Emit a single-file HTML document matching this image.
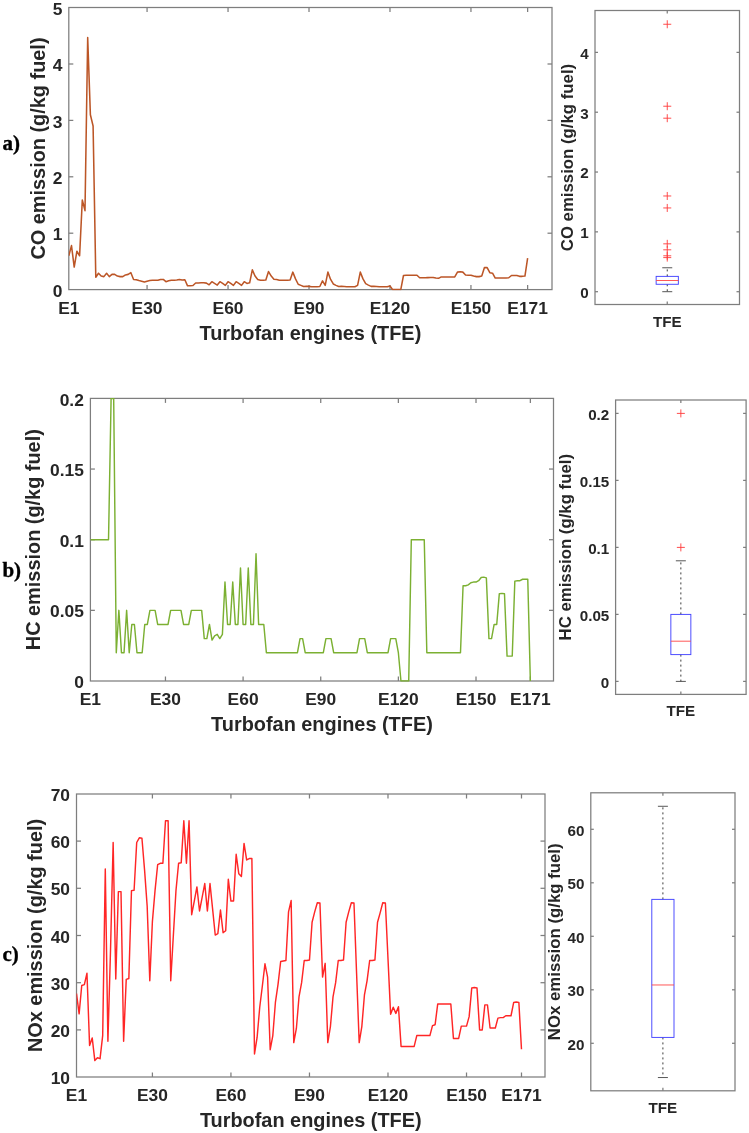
<!DOCTYPE html>
<html><head><meta charset="utf-8"><title>Emissions</title>
<style>html,body{margin:0;padding:0;background:#fff}svg{display:block}</style></head>
<body><svg width="749" height="1133" viewBox="0 0 749 1133">
<rect width="749" height="1133" fill="#fff"/>
<defs><filter id="bl" x="0" y="0" width="749" height="1133" filterUnits="userSpaceOnUse"><feGaussianBlur stdDeviation="0.5"/></filter></defs>
<g filter="url(#bl)">
<rect x="68.80" y="7.50" width="483.20" height="282.10" fill="#fff" stroke="#7e7e7e" stroke-width="1.25"/>
<text x="68.80" y="313.90" font-family="Liberation Sans" font-size="17.4" font-weight="bold" text-anchor="middle" fill="#262626" >E1</text>
<line x1="147.07" y1="289.60" x2="147.07" y2="285.10" stroke="#7e7e7e" stroke-width="1.25" />
<line x1="147.07" y1="7.50" x2="147.07" y2="12.00" stroke="#7e7e7e" stroke-width="1.25" />
<text x="147.07" y="313.90" font-family="Liberation Sans" font-size="17.4" font-weight="bold" text-anchor="middle" fill="#262626" >E30</text>
<line x1="228.04" y1="289.60" x2="228.04" y2="285.10" stroke="#7e7e7e" stroke-width="1.25" />
<line x1="228.04" y1="7.50" x2="228.04" y2="12.00" stroke="#7e7e7e" stroke-width="1.25" />
<text x="228.04" y="313.90" font-family="Liberation Sans" font-size="17.4" font-weight="bold" text-anchor="middle" fill="#262626" >E60</text>
<line x1="309.01" y1="289.60" x2="309.01" y2="285.10" stroke="#7e7e7e" stroke-width="1.25" />
<line x1="309.01" y1="7.50" x2="309.01" y2="12.00" stroke="#7e7e7e" stroke-width="1.25" />
<text x="309.01" y="313.90" font-family="Liberation Sans" font-size="17.4" font-weight="bold" text-anchor="middle" fill="#262626" >E90</text>
<line x1="389.98" y1="289.60" x2="389.98" y2="285.10" stroke="#7e7e7e" stroke-width="1.25" />
<line x1="389.98" y1="7.50" x2="389.98" y2="12.00" stroke="#7e7e7e" stroke-width="1.25" />
<text x="389.98" y="313.90" font-family="Liberation Sans" font-size="17.4" font-weight="bold" text-anchor="middle" fill="#262626" >E120</text>
<line x1="470.95" y1="289.60" x2="470.95" y2="285.10" stroke="#7e7e7e" stroke-width="1.25" />
<line x1="470.95" y1="7.50" x2="470.95" y2="12.00" stroke="#7e7e7e" stroke-width="1.25" />
<text x="470.95" y="313.90" font-family="Liberation Sans" font-size="17.4" font-weight="bold" text-anchor="middle" fill="#262626" >E150</text>
<line x1="527.63" y1="289.60" x2="527.63" y2="285.10" stroke="#7e7e7e" stroke-width="1.25" />
<line x1="527.63" y1="7.50" x2="527.63" y2="12.00" stroke="#7e7e7e" stroke-width="1.25" />
<text x="527.63" y="313.90" font-family="Liberation Sans" font-size="17.4" font-weight="bold" text-anchor="middle" fill="#262626" >E171</text>
<text x="62.30" y="296.73" font-family="Liberation Sans" font-size="17.4" font-weight="bold" text-anchor="end" fill="#262626" >0</text>
<line x1="68.80" y1="233.20" x2="73.30" y2="233.20" stroke="#7e7e7e" stroke-width="1.25" />
<line x1="552.00" y1="233.20" x2="547.50" y2="233.20" stroke="#7e7e7e" stroke-width="1.25" />
<text x="62.30" y="240.33" font-family="Liberation Sans" font-size="17.4" font-weight="bold" text-anchor="end" fill="#262626" >1</text>
<line x1="68.80" y1="176.80" x2="73.30" y2="176.80" stroke="#7e7e7e" stroke-width="1.25" />
<line x1="552.00" y1="176.80" x2="547.50" y2="176.80" stroke="#7e7e7e" stroke-width="1.25" />
<text x="62.30" y="183.93" font-family="Liberation Sans" font-size="17.4" font-weight="bold" text-anchor="end" fill="#262626" >2</text>
<line x1="68.80" y1="120.40" x2="73.30" y2="120.40" stroke="#7e7e7e" stroke-width="1.25" />
<line x1="552.00" y1="120.40" x2="547.50" y2="120.40" stroke="#7e7e7e" stroke-width="1.25" />
<text x="62.30" y="127.53" font-family="Liberation Sans" font-size="17.4" font-weight="bold" text-anchor="end" fill="#262626" >3</text>
<line x1="68.80" y1="64.00" x2="73.30" y2="64.00" stroke="#7e7e7e" stroke-width="1.25" />
<line x1="552.00" y1="64.00" x2="547.50" y2="64.00" stroke="#7e7e7e" stroke-width="1.25" />
<text x="62.30" y="71.13" font-family="Liberation Sans" font-size="17.4" font-weight="bold" text-anchor="end" fill="#262626" >4</text>
<text x="62.30" y="14.73" font-family="Liberation Sans" font-size="17.4" font-weight="bold" text-anchor="end" fill="#262626" >5</text>
<clipPath id="ca"><rect x="68.8" y="7.0" width="483.2" height="283.3"/></clipPath>
<polyline points="68.80,255.76 71.50,245.61 74.20,267.04 76.90,251.25 79.60,255.76 82.30,199.92 84.99,210.64 87.69,37.49 90.39,114.76 93.09,126.04 95.79,277.19 98.49,273.24 101.19,276.06 103.89,276.63 106.59,273.24 109.28,276.63 111.98,274.37 114.68,274.37 117.38,276.06 120.08,276.63 122.78,276.63 125.48,274.94 128.18,274.37 130.88,272.68 133.58,279.45 136.27,279.73 138.97,280.58 141.67,281.14 144.37,281.99 147.07,281.14 149.77,280.58 152.47,280.29 155.17,280.29 157.87,280.29 160.57,279.45 163.26,279.45 165.96,281.70 168.66,280.86 171.36,280.29 174.06,280.29 176.76,280.01 179.46,279.45 182.16,280.01 184.86,279.73 187.56,285.82 190.25,285.65 192.95,285.48 195.65,283.00 198.35,283.00 201.05,282.83 203.75,282.83 206.45,283.11 209.15,284.81 211.85,281.70 214.55,283.40 217.25,285.09 219.94,281.70 222.64,283.40 225.34,285.37 228.04,281.70 230.74,283.40 233.44,285.37 236.14,281.70 238.84,283.40 241.54,285.37 244.24,281.70 246.93,283.40 249.63,282.83 252.33,269.86 255.03,276.06 257.73,279.45 260.43,280.29 263.13,280.29 265.83,280.01 268.53,271.55 271.22,276.06 273.92,279.17 276.62,279.45 279.32,280.29 282.02,280.29 284.72,280.29 287.42,280.29 290.12,280.01 292.82,272.12 295.52,278.88 298.21,284.24 300.91,285.37 303.61,286.50 306.31,286.39 309.01,286.39 311.71,286.78 314.41,286.78 317.11,286.78 319.81,286.50 322.51,280.86 325.20,285.37 327.90,272.12 330.60,279.45 333.30,283.96 336.00,285.37 338.70,286.50 341.40,286.39 344.10,286.50 346.80,286.78 349.50,286.78 352.19,286.78 354.89,286.78 357.59,285.37 360.29,272.12 362.99,278.88 365.69,283.68 368.39,285.09 371.09,286.39 373.79,286.39 376.49,286.50 379.19,286.78 381.88,286.78 384.58,286.78 387.28,286.78 389.98,285.93 392.68,289.60 395.38,289.60 398.08,289.60 400.78,289.60 403.48,275.50 406.18,275.22 408.87,275.22 411.57,275.22 414.27,275.22 416.97,275.22 419.67,277.76 422.37,277.76 425.07,277.76 427.77,277.64 430.47,277.47 433.16,277.47 435.86,278.04 438.56,278.32 441.26,276.91 443.96,276.91 446.66,276.91 449.36,276.91 452.06,276.91 454.76,276.91 457.46,272.12 460.15,271.83 462.85,272.12 465.55,274.94 468.25,275.22 470.95,275.22 473.65,276.06 476.35,276.63 479.05,276.63 481.75,276.06 484.45,267.60 487.14,267.60 489.84,272.68 492.54,273.24 495.24,278.04 497.94,278.04 500.64,278.04 503.34,278.04 506.04,278.04 508.74,277.76 511.44,275.50 514.13,275.50 516.83,275.50 519.53,276.35 522.23,276.35 524.93,276.06 527.63,258.02" fill="none" stroke="#BC5628" stroke-width="1.55" stroke-linejoin="round" clip-path="url(#ca)"/>
<text x="310.40" y="339.60" font-family="Liberation Sans" font-size="19.9" font-weight="bold" text-anchor="middle" fill="#262626" >Turbofan engines (TFE)</text>
<text x="44.60" y="148.55" font-family="Liberation Sans" font-size="19.9" font-weight="bold" text-anchor="middle" fill="#262626" transform="rotate(-90 44.60 148.55)" >CO emission (g/kg fuel)</text>
<text x="2.40" y="149.80" font-family="Liberation Serif" font-size="21" font-weight="bold" text-anchor="start" fill="#000" stroke="#000" stroke-width="0.35">a)</text>
<rect x="595.00" y="10.50" width="144.50" height="294.00" fill="#fff" stroke="#7e7e7e" stroke-width="1.25"/>
<line x1="667.25" y1="304.50" x2="667.25" y2="301.50" stroke="#7e7e7e" stroke-width="1.25" />
<line x1="667.25" y1="10.50" x2="667.25" y2="13.50" stroke="#7e7e7e" stroke-width="1.25" />
<line x1="595.00" y1="291.70" x2="598.00" y2="291.70" stroke="#7e7e7e" stroke-width="1.25" />
<line x1="739.50" y1="291.70" x2="736.50" y2="291.70" stroke="#7e7e7e" stroke-width="1.25" />
<text x="588.70" y="298.01" font-family="Liberation Sans" font-size="15.2" font-weight="bold" text-anchor="end" fill="#262626" >0</text>
<line x1="595.00" y1="231.87" x2="598.00" y2="231.87" stroke="#7e7e7e" stroke-width="1.25" />
<line x1="739.50" y1="231.87" x2="736.50" y2="231.87" stroke="#7e7e7e" stroke-width="1.25" />
<text x="588.70" y="238.18" font-family="Liberation Sans" font-size="15.2" font-weight="bold" text-anchor="end" fill="#262626" >1</text>
<line x1="595.00" y1="172.04" x2="598.00" y2="172.04" stroke="#7e7e7e" stroke-width="1.25" />
<line x1="739.50" y1="172.04" x2="736.50" y2="172.04" stroke="#7e7e7e" stroke-width="1.25" />
<text x="588.70" y="178.35" font-family="Liberation Sans" font-size="15.2" font-weight="bold" text-anchor="end" fill="#262626" >2</text>
<line x1="595.00" y1="112.21" x2="598.00" y2="112.21" stroke="#7e7e7e" stroke-width="1.25" />
<line x1="739.50" y1="112.21" x2="736.50" y2="112.21" stroke="#7e7e7e" stroke-width="1.25" />
<text x="588.70" y="118.52" font-family="Liberation Sans" font-size="15.2" font-weight="bold" text-anchor="end" fill="#262626" >3</text>
<line x1="595.00" y1="52.38" x2="598.00" y2="52.38" stroke="#7e7e7e" stroke-width="1.25" />
<line x1="739.50" y1="52.38" x2="736.50" y2="52.38" stroke="#7e7e7e" stroke-width="1.25" />
<text x="588.70" y="58.69" font-family="Liberation Sans" font-size="15.2" font-weight="bold" text-anchor="end" fill="#262626" >4</text>
<text x="667.25" y="326.50" font-family="Liberation Sans" font-size="15.2" font-weight="bold" text-anchor="middle" fill="#262626" >TFE</text>
<text x="573.00" y="157.50" font-family="Liberation Sans" font-size="16.8" font-weight="bold" text-anchor="middle" fill="#262626" transform="rotate(-90 573.00 157.50)" >CO emission (g/kg fuel)</text>
<line x1="667.25" y1="276.38" x2="667.25" y2="267.77" stroke="#333" stroke-width="0.95" stroke-dasharray="2 3"/>
<line x1="667.25" y1="284.28" x2="667.25" y2="291.70" stroke="#333" stroke-width="0.95" stroke-dasharray="2 3"/>
<line x1="662.25" y1="267.77" x2="672.25" y2="267.77" stroke="#444" stroke-width="0.9" />
<line x1="662.25" y1="291.70" x2="672.25" y2="291.70" stroke="#444" stroke-width="0.9" />
<rect x="656.15" y="276.38" width="22.20" height="7.90" fill="none" stroke="#4444ff" stroke-width="0.95"/>
<line x1="656.15" y1="280.51" x2="678.35" y2="280.51" stroke="#ff4545" stroke-width="0.9" />
<line x1="663.25" y1="24.26" x2="671.25" y2="24.26" stroke="#ff3a3a" stroke-width="0.9" />
<line x1="667.25" y1="20.26" x2="667.25" y2="28.26" stroke="#ff3a3a" stroke-width="0.9" />
<line x1="663.25" y1="106.23" x2="671.25" y2="106.23" stroke="#ff3a3a" stroke-width="0.9" />
<line x1="667.25" y1="102.23" x2="667.25" y2="110.23" stroke="#ff3a3a" stroke-width="0.9" />
<line x1="663.25" y1="118.19" x2="671.25" y2="118.19" stroke="#ff3a3a" stroke-width="0.9" />
<line x1="667.25" y1="114.19" x2="667.25" y2="122.19" stroke="#ff3a3a" stroke-width="0.9" />
<line x1="663.25" y1="195.97" x2="671.25" y2="195.97" stroke="#ff3a3a" stroke-width="0.9" />
<line x1="667.25" y1="191.97" x2="667.25" y2="199.97" stroke="#ff3a3a" stroke-width="0.9" />
<line x1="663.25" y1="207.94" x2="671.25" y2="207.94" stroke="#ff3a3a" stroke-width="0.9" />
<line x1="667.25" y1="203.94" x2="667.25" y2="211.94" stroke="#ff3a3a" stroke-width="0.9" />
<line x1="663.25" y1="243.84" x2="671.25" y2="243.84" stroke="#ff3a3a" stroke-width="0.9" />
<line x1="667.25" y1="239.84" x2="667.25" y2="247.84" stroke="#ff3a3a" stroke-width="0.9" />
<line x1="663.25" y1="249.82" x2="671.25" y2="249.82" stroke="#ff3a3a" stroke-width="0.9" />
<line x1="667.25" y1="245.82" x2="667.25" y2="253.82" stroke="#ff3a3a" stroke-width="0.9" />
<line x1="663.25" y1="255.80" x2="671.25" y2="255.80" stroke="#ff3a3a" stroke-width="0.9" />
<line x1="667.25" y1="251.80" x2="667.25" y2="259.80" stroke="#ff3a3a" stroke-width="0.9" />
<line x1="663.25" y1="257.60" x2="671.25" y2="257.60" stroke="#ff3a3a" stroke-width="0.9" />
<line x1="667.25" y1="253.60" x2="667.25" y2="261.60" stroke="#ff3a3a" stroke-width="0.9" />
<rect x="90.40" y="398.40" width="463.10" height="282.60" fill="#fff" stroke="#7e7e7e" stroke-width="1.25"/>
<text x="90.40" y="705.30" font-family="Liberation Sans" font-size="17.4" font-weight="bold" text-anchor="middle" fill="#262626" >E1</text>
<line x1="165.45" y1="681.00" x2="165.45" y2="676.50" stroke="#7e7e7e" stroke-width="1.25" />
<line x1="165.45" y1="398.40" x2="165.45" y2="402.90" stroke="#7e7e7e" stroke-width="1.25" />
<text x="165.45" y="705.30" font-family="Liberation Sans" font-size="17.4" font-weight="bold" text-anchor="middle" fill="#262626" >E30</text>
<line x1="243.09" y1="681.00" x2="243.09" y2="676.50" stroke="#7e7e7e" stroke-width="1.25" />
<line x1="243.09" y1="398.40" x2="243.09" y2="402.90" stroke="#7e7e7e" stroke-width="1.25" />
<text x="243.09" y="705.30" font-family="Liberation Sans" font-size="17.4" font-weight="bold" text-anchor="middle" fill="#262626" >E60</text>
<line x1="320.73" y1="681.00" x2="320.73" y2="676.50" stroke="#7e7e7e" stroke-width="1.25" />
<line x1="320.73" y1="398.40" x2="320.73" y2="402.90" stroke="#7e7e7e" stroke-width="1.25" />
<text x="320.73" y="705.30" font-family="Liberation Sans" font-size="17.4" font-weight="bold" text-anchor="middle" fill="#262626" >E90</text>
<line x1="398.37" y1="681.00" x2="398.37" y2="676.50" stroke="#7e7e7e" stroke-width="1.25" />
<line x1="398.37" y1="398.40" x2="398.37" y2="402.90" stroke="#7e7e7e" stroke-width="1.25" />
<text x="398.37" y="705.30" font-family="Liberation Sans" font-size="17.4" font-weight="bold" text-anchor="middle" fill="#262626" >E120</text>
<line x1="476.01" y1="681.00" x2="476.01" y2="676.50" stroke="#7e7e7e" stroke-width="1.25" />
<line x1="476.01" y1="398.40" x2="476.01" y2="402.90" stroke="#7e7e7e" stroke-width="1.25" />
<text x="476.01" y="705.30" font-family="Liberation Sans" font-size="17.4" font-weight="bold" text-anchor="middle" fill="#262626" >E150</text>
<line x1="530.36" y1="681.00" x2="530.36" y2="676.50" stroke="#7e7e7e" stroke-width="1.25" />
<line x1="530.36" y1="398.40" x2="530.36" y2="402.90" stroke="#7e7e7e" stroke-width="1.25" />
<text x="530.36" y="705.30" font-family="Liberation Sans" font-size="17.4" font-weight="bold" text-anchor="middle" fill="#262626" >E171</text>
<text x="83.90" y="688.13" font-family="Liberation Sans" font-size="17.4" font-weight="bold" text-anchor="end" fill="#262626" >0</text>
<line x1="90.40" y1="610.35" x2="94.90" y2="610.35" stroke="#7e7e7e" stroke-width="1.25" />
<line x1="553.50" y1="610.35" x2="549.00" y2="610.35" stroke="#7e7e7e" stroke-width="1.25" />
<text x="83.90" y="617.48" font-family="Liberation Sans" font-size="17.4" font-weight="bold" text-anchor="end" fill="#262626" >0.05</text>
<line x1="90.40" y1="539.70" x2="94.90" y2="539.70" stroke="#7e7e7e" stroke-width="1.25" />
<line x1="553.50" y1="539.70" x2="549.00" y2="539.70" stroke="#7e7e7e" stroke-width="1.25" />
<text x="83.90" y="546.83" font-family="Liberation Sans" font-size="17.4" font-weight="bold" text-anchor="end" fill="#262626" >0.1</text>
<line x1="90.40" y1="469.05" x2="94.90" y2="469.05" stroke="#7e7e7e" stroke-width="1.25" />
<line x1="553.50" y1="469.05" x2="549.00" y2="469.05" stroke="#7e7e7e" stroke-width="1.25" />
<text x="83.90" y="476.18" font-family="Liberation Sans" font-size="17.4" font-weight="bold" text-anchor="end" fill="#262626" >0.15</text>
<text x="83.90" y="405.53" font-family="Liberation Sans" font-size="17.4" font-weight="bold" text-anchor="end" fill="#262626" >0.2</text>
<clipPath id="cb"><rect x="90.4" y="397.9" width="463.1" height="283.8"/></clipPath>
<polyline points="90.40,539.70 92.99,539.70 95.58,539.70 98.16,539.70 100.75,539.70 103.34,539.70 105.93,539.70 108.52,539.70 111.10,398.40 113.69,398.40 116.28,652.74 118.87,610.35 121.46,652.74 124.04,652.74 126.63,610.35 129.22,652.74 131.81,624.48 134.40,624.48 136.98,652.74 139.57,652.74 142.16,652.74 144.75,624.48 147.34,624.48 149.92,610.35 152.51,610.35 155.10,610.35 157.69,624.48 160.28,624.48 162.86,624.48 165.45,624.48 168.04,624.48 170.63,610.35 173.22,610.35 175.80,610.35 178.39,610.35 180.98,610.35 183.57,624.48 186.16,624.48 188.74,624.48 191.33,610.35 193.92,610.35 196.51,610.35 199.10,610.35 201.68,610.35 204.27,638.61 206.86,638.61 209.45,624.48 212.04,640.02 214.62,635.78 217.21,634.37 219.80,638.61 222.39,634.37 224.98,582.09 227.56,624.48 230.15,624.48 232.74,582.09 235.33,624.48 237.92,624.48 240.50,567.96 243.09,624.48 245.68,624.48 248.27,567.96 250.86,624.48 253.44,624.48 256.03,553.83 258.62,624.48 261.21,624.48 263.80,624.48 266.38,652.74 268.97,652.74 271.56,652.74 274.15,652.74 276.74,652.74 279.32,652.74 281.91,652.74 284.50,652.74 287.09,652.74 289.68,652.74 292.26,652.74 294.85,652.74 297.44,652.74 300.03,638.61 302.62,638.61 305.20,652.74 307.79,652.74 310.38,652.74 312.97,652.74 315.56,652.74 318.14,652.74 320.73,652.74 323.32,652.74 325.91,638.61 328.50,638.61 331.08,638.61 333.67,652.74 336.26,652.74 338.85,652.74 341.44,652.74 344.02,652.74 346.61,652.74 349.20,652.74 351.79,652.74 354.38,652.74 356.96,652.74 359.55,638.61 362.14,638.61 364.73,638.61 367.32,652.74 369.90,652.74 372.49,652.74 375.08,652.74 377.67,652.74 380.26,652.74 382.84,652.74 385.43,652.74 388.02,652.74 390.61,638.61 393.20,638.61 395.78,638.61 398.37,652.74 400.96,681.00 403.55,681.00 406.14,681.00 408.72,681.00 411.31,539.70 413.90,539.70 416.49,539.70 419.08,539.70 421.66,539.70 424.25,539.70 426.84,652.74 429.43,652.74 432.02,652.74 434.60,652.74 437.19,652.74 439.78,652.74 442.37,652.74 444.96,652.74 447.54,652.74 450.13,652.74 452.72,652.74 455.31,652.74 457.90,652.74 460.48,652.74 463.07,585.76 465.66,585.76 468.25,584.92 470.84,582.80 473.42,582.09 476.01,582.09 478.60,580.68 481.19,577.43 483.78,577.14 486.36,577.85 488.95,638.61 491.54,638.61 494.13,624.48 496.72,624.48 499.30,593.82 501.89,593.39 504.48,593.82 507.07,656.13 509.66,656.13 512.24,655.99 514.83,581.10 517.42,580.68 520.01,580.68 522.60,579.26 525.18,579.26 527.77,579.26 530.36,681.00" fill="none" stroke="#7BB033" stroke-width="1.45" stroke-linejoin="round" clip-path="url(#cb)"/>
<text x="321.95" y="731.00" font-family="Liberation Sans" font-size="19.9" font-weight="bold" text-anchor="middle" fill="#262626" >Turbofan engines (TFE)</text>
<text x="40.30" y="539.70" font-family="Liberation Sans" font-size="19.9" font-weight="bold" text-anchor="middle" fill="#262626" transform="rotate(-90 40.30 539.70)" >HC emission (g/kg fuel)</text>
<text x="2.40" y="576.70" font-family="Liberation Serif" font-size="21" font-weight="bold" text-anchor="start" fill="#000" stroke="#000" stroke-width="0.35">b)</text>
<rect x="615.60" y="400.00" width="130.50" height="294.40" fill="#fff" stroke="#7e7e7e" stroke-width="1.25"/>
<line x1="680.85" y1="694.40" x2="680.85" y2="691.40" stroke="#7e7e7e" stroke-width="1.25" />
<line x1="680.85" y1="400.00" x2="680.85" y2="403.00" stroke="#7e7e7e" stroke-width="1.25" />
<line x1="615.60" y1="681.40" x2="618.60" y2="681.40" stroke="#7e7e7e" stroke-width="1.25" />
<line x1="746.10" y1="681.40" x2="743.10" y2="681.40" stroke="#7e7e7e" stroke-width="1.25" />
<text x="609.30" y="687.71" font-family="Liberation Sans" font-size="15.2" font-weight="bold" text-anchor="end" fill="#262626" >0</text>
<line x1="615.60" y1="614.40" x2="618.60" y2="614.40" stroke="#7e7e7e" stroke-width="1.25" />
<line x1="746.10" y1="614.40" x2="743.10" y2="614.40" stroke="#7e7e7e" stroke-width="1.25" />
<text x="609.30" y="620.71" font-family="Liberation Sans" font-size="15.2" font-weight="bold" text-anchor="end" fill="#262626" >0.05</text>
<line x1="615.60" y1="547.40" x2="618.60" y2="547.40" stroke="#7e7e7e" stroke-width="1.25" />
<line x1="746.10" y1="547.40" x2="743.10" y2="547.40" stroke="#7e7e7e" stroke-width="1.25" />
<text x="609.30" y="553.71" font-family="Liberation Sans" font-size="15.2" font-weight="bold" text-anchor="end" fill="#262626" >0.1</text>
<line x1="615.60" y1="480.40" x2="618.60" y2="480.40" stroke="#7e7e7e" stroke-width="1.25" />
<line x1="746.10" y1="480.40" x2="743.10" y2="480.40" stroke="#7e7e7e" stroke-width="1.25" />
<text x="609.30" y="486.71" font-family="Liberation Sans" font-size="15.2" font-weight="bold" text-anchor="end" fill="#262626" >0.15</text>
<line x1="615.60" y1="413.40" x2="618.60" y2="413.40" stroke="#7e7e7e" stroke-width="1.25" />
<line x1="746.10" y1="413.40" x2="743.10" y2="413.40" stroke="#7e7e7e" stroke-width="1.25" />
<text x="609.30" y="419.71" font-family="Liberation Sans" font-size="15.2" font-weight="bold" text-anchor="end" fill="#262626" >0.2</text>
<text x="680.85" y="716.40" font-family="Liberation Sans" font-size="15.2" font-weight="bold" text-anchor="middle" fill="#262626" >TFE</text>
<text x="571.40" y="547.20" font-family="Liberation Sans" font-size="16.8" font-weight="bold" text-anchor="middle" fill="#262626" transform="rotate(-90 571.40 547.20)" >HC emission (g/kg fuel)</text>
<line x1="680.85" y1="614.40" x2="680.85" y2="560.80" stroke="#333" stroke-width="0.95" stroke-dasharray="2 3"/>
<line x1="680.85" y1="654.60" x2="680.85" y2="681.40" stroke="#333" stroke-width="0.95" stroke-dasharray="2 3"/>
<line x1="675.85" y1="560.80" x2="685.85" y2="560.80" stroke="#444" stroke-width="0.9" />
<line x1="675.85" y1="681.40" x2="685.85" y2="681.40" stroke="#444" stroke-width="0.9" />
<rect x="670.85" y="614.40" width="20.00" height="40.20" fill="none" stroke="#4444ff" stroke-width="0.95"/>
<line x1="670.85" y1="641.20" x2="690.85" y2="641.20" stroke="#ff4545" stroke-width="0.9" />
<line x1="676.85" y1="547.40" x2="684.85" y2="547.40" stroke="#ff3a3a" stroke-width="0.9" />
<line x1="680.85" y1="543.40" x2="680.85" y2="551.40" stroke="#ff3a3a" stroke-width="0.9" />
<line x1="676.85" y1="413.40" x2="684.85" y2="413.40" stroke="#ff3a3a" stroke-width="0.9" />
<line x1="680.85" y1="409.40" x2="680.85" y2="417.40" stroke="#ff3a3a" stroke-width="0.9" />
<rect x="76.50" y="794.00" width="468.50" height="283.00" fill="#fff" stroke="#7e7e7e" stroke-width="1.25"/>
<text x="76.50" y="1101.30" font-family="Liberation Sans" font-size="17.4" font-weight="bold" text-anchor="middle" fill="#262626" >E1</text>
<line x1="152.41" y1="1077.00" x2="152.41" y2="1072.50" stroke="#7e7e7e" stroke-width="1.25" />
<line x1="152.41" y1="794.00" x2="152.41" y2="798.50" stroke="#7e7e7e" stroke-width="1.25" />
<text x="152.41" y="1101.30" font-family="Liberation Sans" font-size="17.4" font-weight="bold" text-anchor="middle" fill="#262626" >E30</text>
<line x1="230.94" y1="1077.00" x2="230.94" y2="1072.50" stroke="#7e7e7e" stroke-width="1.25" />
<line x1="230.94" y1="794.00" x2="230.94" y2="798.50" stroke="#7e7e7e" stroke-width="1.25" />
<text x="230.94" y="1101.30" font-family="Liberation Sans" font-size="17.4" font-weight="bold" text-anchor="middle" fill="#262626" >E60</text>
<line x1="309.47" y1="1077.00" x2="309.47" y2="1072.50" stroke="#7e7e7e" stroke-width="1.25" />
<line x1="309.47" y1="794.00" x2="309.47" y2="798.50" stroke="#7e7e7e" stroke-width="1.25" />
<text x="309.47" y="1101.30" font-family="Liberation Sans" font-size="17.4" font-weight="bold" text-anchor="middle" fill="#262626" >E90</text>
<line x1="387.99" y1="1077.00" x2="387.99" y2="1072.50" stroke="#7e7e7e" stroke-width="1.25" />
<line x1="387.99" y1="794.00" x2="387.99" y2="798.50" stroke="#7e7e7e" stroke-width="1.25" />
<text x="387.99" y="1101.30" font-family="Liberation Sans" font-size="17.4" font-weight="bold" text-anchor="middle" fill="#262626" >E120</text>
<line x1="466.52" y1="1077.00" x2="466.52" y2="1072.50" stroke="#7e7e7e" stroke-width="1.25" />
<line x1="466.52" y1="794.00" x2="466.52" y2="798.50" stroke="#7e7e7e" stroke-width="1.25" />
<text x="466.52" y="1101.30" font-family="Liberation Sans" font-size="17.4" font-weight="bold" text-anchor="middle" fill="#262626" >E150</text>
<line x1="521.49" y1="1077.00" x2="521.49" y2="1072.50" stroke="#7e7e7e" stroke-width="1.25" />
<line x1="521.49" y1="794.00" x2="521.49" y2="798.50" stroke="#7e7e7e" stroke-width="1.25" />
<text x="521.49" y="1101.30" font-family="Liberation Sans" font-size="17.4" font-weight="bold" text-anchor="middle" fill="#262626" >E171</text>
<text x="70.00" y="1084.23" font-family="Liberation Sans" font-size="17.4" font-weight="bold" text-anchor="end" fill="#262626" >10</text>
<line x1="76.50" y1="1029.90" x2="81.00" y2="1029.90" stroke="#7e7e7e" stroke-width="1.25" />
<line x1="545.00" y1="1029.90" x2="540.50" y2="1029.90" stroke="#7e7e7e" stroke-width="1.25" />
<text x="70.00" y="1037.03" font-family="Liberation Sans" font-size="17.4" font-weight="bold" text-anchor="end" fill="#262626" >20</text>
<line x1="76.50" y1="982.70" x2="81.00" y2="982.70" stroke="#7e7e7e" stroke-width="1.25" />
<line x1="545.00" y1="982.70" x2="540.50" y2="982.70" stroke="#7e7e7e" stroke-width="1.25" />
<text x="70.00" y="989.83" font-family="Liberation Sans" font-size="17.4" font-weight="bold" text-anchor="end" fill="#262626" >30</text>
<line x1="76.50" y1="935.50" x2="81.00" y2="935.50" stroke="#7e7e7e" stroke-width="1.25" />
<line x1="545.00" y1="935.50" x2="540.50" y2="935.50" stroke="#7e7e7e" stroke-width="1.25" />
<text x="70.00" y="942.63" font-family="Liberation Sans" font-size="17.4" font-weight="bold" text-anchor="end" fill="#262626" >40</text>
<line x1="76.50" y1="888.30" x2="81.00" y2="888.30" stroke="#7e7e7e" stroke-width="1.25" />
<line x1="545.00" y1="888.30" x2="540.50" y2="888.30" stroke="#7e7e7e" stroke-width="1.25" />
<text x="70.00" y="895.43" font-family="Liberation Sans" font-size="17.4" font-weight="bold" text-anchor="end" fill="#262626" >50</text>
<line x1="76.50" y1="841.10" x2="81.00" y2="841.10" stroke="#7e7e7e" stroke-width="1.25" />
<line x1="545.00" y1="841.10" x2="540.50" y2="841.10" stroke="#7e7e7e" stroke-width="1.25" />
<text x="70.00" y="848.23" font-family="Liberation Sans" font-size="17.4" font-weight="bold" text-anchor="end" fill="#262626" >60</text>
<text x="70.00" y="801.03" font-family="Liberation Sans" font-size="17.4" font-weight="bold" text-anchor="end" fill="#262626" >70</text>
<clipPath id="cc"><rect x="76.5" y="793.5" width="468.5" height="284.2"/></clipPath>
<polyline points="76.50,993.56 79.12,1013.85 81.74,985.53 84.35,984.59 86.97,973.26 89.59,1045.48 92.21,1037.92 94.82,1060.58 97.44,1057.75 100.06,1058.69 102.68,1035.56 105.29,868.95 107.91,1041.23 110.53,949.66 113.15,842.52 115.76,978.92 118.38,891.60 121.00,891.60 123.62,1041.23 126.23,979.40 128.85,978.45 131.47,890.66 134.09,890.19 136.70,842.52 139.32,837.80 141.94,838.27 144.56,869.89 147.18,906.24 149.79,980.81 152.41,921.34 155.03,890.66 157.65,864.70 160.26,863.28 162.88,863.28 165.50,820.80 168.12,820.80 170.73,980.81 173.35,935.50 175.97,890.66 178.59,863.28 181.20,862.81 183.82,820.80 186.44,863.28 189.06,820.80 191.67,914.73 194.29,901.04 196.91,886.88 199.53,910.96 202.14,897.27 204.76,883.58 207.38,910.96 210.00,883.58 212.62,909.07 215.23,935.03 217.85,933.61 220.47,910.01 223.09,932.67 225.70,930.78 228.32,879.33 230.94,901.04 233.56,901.04 236.17,854.32 238.79,873.67 241.41,876.50 244.03,843.46 246.64,859.98 249.26,858.56 251.88,858.56 254.50,1053.97 257.11,1037.45 259.73,1007.24 262.35,986.00 264.97,963.82 267.58,977.04 270.20,1049.72 272.82,1035.56 275.44,1002.05 278.06,984.12 280.67,961.46 283.29,960.99 285.91,960.52 288.53,911.90 291.14,900.57 293.76,1042.64 296.38,1028.48 299.00,996.86 301.61,982.70 304.23,960.52 306.85,960.52 309.47,960.04 312.08,922.28 314.70,911.90 317.32,902.70 319.94,902.93 322.55,977.04 325.17,963.35 327.79,1042.64 330.41,1026.60 333.02,996.86 335.64,982.70 338.26,960.52 340.88,960.52 343.50,960.04 346.11,922.28 348.73,911.90 351.35,902.70 353.97,902.93 356.58,973.26 359.20,1042.64 361.82,1026.60 364.44,994.97 367.05,980.81 369.67,960.52 372.29,960.52 374.91,960.04 377.52,922.28 380.14,912.84 382.76,902.70 385.38,902.93 387.99,958.63 390.61,1014.32 393.23,1007.24 395.85,1013.38 398.46,1006.77 401.08,1046.42 403.70,1046.42 406.32,1046.42 408.94,1046.42 411.55,1046.42 414.17,1046.42 416.79,1035.56 419.41,1035.56 422.02,1035.56 424.64,1035.56 427.26,1035.56 429.88,1035.56 432.49,1025.65 435.11,1024.71 437.73,1003.94 440.35,1003.94 442.96,1003.94 445.58,1003.94 448.20,1003.94 450.82,1003.94 453.43,1038.40 456.05,1038.40 458.67,1038.40 461.29,1026.12 463.90,1026.12 466.52,1026.12 469.14,1016.68 471.76,987.89 474.38,987.42 476.99,987.89 479.61,1029.90 482.23,1029.90 484.85,1004.88 487.46,1004.88 490.08,1028.01 492.70,1028.01 495.32,1028.01 497.93,1018.10 500.55,1017.63 503.17,1017.63 505.79,1015.74 508.40,1015.74 511.02,1015.74 513.64,1002.52 516.26,1002.05 518.87,1002.52 521.49,1049.25" fill="none" stroke="#FF2626" stroke-width="1.45" stroke-linejoin="round" clip-path="url(#cc)"/>
<text x="310.75" y="1127.00" font-family="Liberation Sans" font-size="19.9" font-weight="bold" text-anchor="middle" fill="#262626" >Turbofan engines (TFE)</text>
<text x="42.00" y="935.50" font-family="Liberation Sans" font-size="19.9" font-weight="bold" text-anchor="middle" fill="#262626" transform="rotate(-90 42.00 935.50)" >NOx emission (g/kg fuel)</text>
<text x="2.40" y="960.90" font-family="Liberation Serif" font-size="21" font-weight="bold" text-anchor="start" fill="#000" stroke="#000" stroke-width="0.35">c)</text>
<rect x="590.80" y="792.80" width="144.20" height="298.00" fill="#fff" stroke="#7e7e7e" stroke-width="1.25"/>
<line x1="662.90" y1="1090.80" x2="662.90" y2="1087.80" stroke="#7e7e7e" stroke-width="1.25" />
<line x1="662.90" y1="792.80" x2="662.90" y2="795.80" stroke="#7e7e7e" stroke-width="1.25" />
<line x1="590.80" y1="1043.30" x2="593.80" y2="1043.30" stroke="#7e7e7e" stroke-width="1.25" />
<line x1="735.00" y1="1043.30" x2="732.00" y2="1043.30" stroke="#7e7e7e" stroke-width="1.25" />
<text x="584.50" y="1049.61" font-family="Liberation Sans" font-size="15.2" font-weight="bold" text-anchor="end" fill="#262626" >20</text>
<line x1="590.80" y1="989.80" x2="593.80" y2="989.80" stroke="#7e7e7e" stroke-width="1.25" />
<line x1="735.00" y1="989.80" x2="732.00" y2="989.80" stroke="#7e7e7e" stroke-width="1.25" />
<text x="584.50" y="996.11" font-family="Liberation Sans" font-size="15.2" font-weight="bold" text-anchor="end" fill="#262626" >30</text>
<line x1="590.80" y1="936.30" x2="593.80" y2="936.30" stroke="#7e7e7e" stroke-width="1.25" />
<line x1="735.00" y1="936.30" x2="732.00" y2="936.30" stroke="#7e7e7e" stroke-width="1.25" />
<text x="584.50" y="942.61" font-family="Liberation Sans" font-size="15.2" font-weight="bold" text-anchor="end" fill="#262626" >40</text>
<line x1="590.80" y1="882.80" x2="593.80" y2="882.80" stroke="#7e7e7e" stroke-width="1.25" />
<line x1="735.00" y1="882.80" x2="732.00" y2="882.80" stroke="#7e7e7e" stroke-width="1.25" />
<text x="584.50" y="889.11" font-family="Liberation Sans" font-size="15.2" font-weight="bold" text-anchor="end" fill="#262626" >50</text>
<line x1="590.80" y1="829.30" x2="593.80" y2="829.30" stroke="#7e7e7e" stroke-width="1.25" />
<line x1="735.00" y1="829.30" x2="732.00" y2="829.30" stroke="#7e7e7e" stroke-width="1.25" />
<text x="584.50" y="835.61" font-family="Liberation Sans" font-size="15.2" font-weight="bold" text-anchor="end" fill="#262626" >60</text>
<text x="662.90" y="1112.80" font-family="Liberation Sans" font-size="15.2" font-weight="bold" text-anchor="middle" fill="#262626" >TFE</text>
<text x="560.00" y="941.80" font-family="Liberation Sans" font-size="16.8" font-weight="bold" text-anchor="middle" fill="#262626" transform="rotate(-90 560.00 941.80)" >NOx emission (g/kg fuel)</text>
<line x1="662.90" y1="899.38" x2="662.90" y2="806.29" stroke="#333" stroke-width="0.95" stroke-dasharray="2 3"/>
<line x1="662.90" y1="1037.41" x2="662.90" y2="1077.54" stroke="#333" stroke-width="0.95" stroke-dasharray="2 3"/>
<line x1="657.90" y1="806.29" x2="667.90" y2="806.29" stroke="#444" stroke-width="0.9" />
<line x1="657.90" y1="1077.54" x2="667.90" y2="1077.54" stroke="#444" stroke-width="0.9" />
<rect x="651.80" y="899.38" width="22.20" height="138.03" fill="none" stroke="#4444ff" stroke-width="0.95"/>
<line x1="651.80" y1="984.98" x2="674.00" y2="984.98" stroke="#ff4545" stroke-width="0.9" />
</g></svg></body></html>
